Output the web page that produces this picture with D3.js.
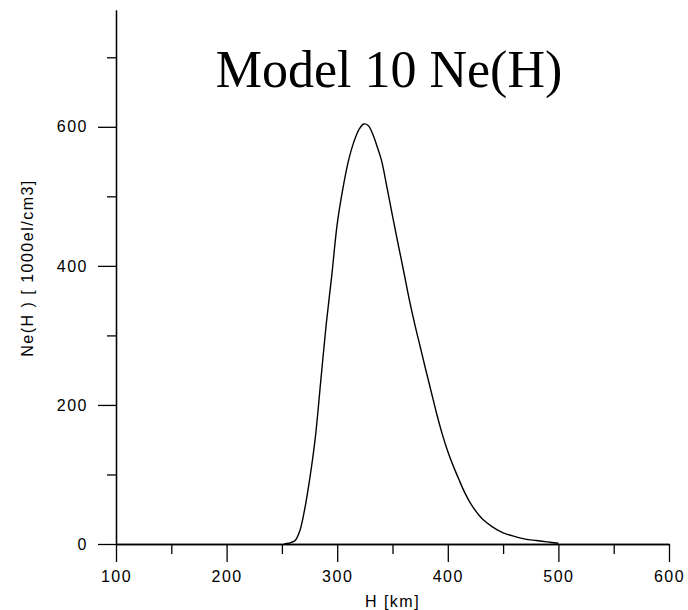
<!DOCTYPE html>
<html>
<head>
<meta charset="utf-8">
<script src="https://cdn.jsdelivr.net/npm/d3@7"></script>
<style>
  html, body { margin: 0; padding: 0; background: #fff; }
  svg { display: block; }
  .tick text, .axis-label { font-family: "Liberation Sans", Arial, sans-serif; font-size: 16px; letter-spacing: 1.5px; fill: #000; }
  .title { font-family: "Liberation Serif", "Times New Roman", serif; font-size: 52px; fill: #000; }
</style>
</head>
<body>
<svg id="chart" width="688" height="610"></svg>
<script>
// electron density profile
const heights = [252, 256, 258, 262, 266, 270, 275, 280, 285, 290, 295, 300, 305, 310, 315, 320, 324, 328, 332, 336, 340, 345, 350, 355, 360, 365, 370, 375, 380, 385, 390, 395, 400, 405, 410, 415, 420, 425, 430, 435, 440, 445, 450, 460, 470, 480, 490, 500];
const neValues = [0, 1, 2, 5, 18, 45, 92, 150, 232, 315, 385, 460, 510, 550, 578, 597, 604, 602, 590, 572, 552, 513, 472, 432, 393, 353, 317, 284, 251, 219, 187, 158, 133, 112, 93, 75, 60, 48, 38, 31, 25, 20, 16, 11, 7, 5, 3, 1];

const xMajorTicks = [100, 200, 300, 400, 500, 600];
const xMinorTicks = [150, 250, 350, 450, 550];
const yMajorTicks = [0, 200, 400, 600];
const yMinorTicks = [100, 300, 500, 700];

const titleText = "Model 10 Ne(H)";
const xTitle = "H [km]";
const yTitle = "Ne(H ) [ 1000el/cm3]";

const data = heights.map((h, i) => ({ h, v: neValues[i] }));

const svg = d3.select("#chart");

const xScale = d3.scaleLinear().domain([100, 600]).range([116, 669]);
const yScale = d3.scaleLinear().domain([0, 768]).range([544, 10]);

const styleAxis = (g) => {
  g.select(".domain").attr("stroke", "#000").attr("stroke-width", 1.3).attr("fill", "none");
  g.selectAll(".tick line").attr("stroke", "#000").attr("stroke-width", 1.3);
  g.selectAll(".tick text").attr("font-family", null).attr("font-size", null);
};

// minor ticks first, no labels
svg
  .append("g")
  .attr("transform", `translate(0,${yScale(0)})`)
  .call(d3.axisBottom(xScale).tickValues(xMinorTicks).tickSize(10).tickSizeOuter(0).tickFormat(""))
  .call(styleAxis);

svg
  .append("g")
  .attr("transform", `translate(${xScale(100)},0)`)
  .call(d3.axisLeft(yScale).tickValues(yMinorTicks).tickSize(9).tickSizeOuter(0).tickFormat(""))
  .call(styleAxis);

svg
  .append("g")
  .attr("class", "axis-x")
  .attr("transform", `translate(0,${yScale(0)})`)
  .call(d3.axisBottom(xScale).tickValues(xMajorTicks).tickSize(18).tickSizeOuter(0).tickPadding(9).tickFormat(d3.format("d")))
  .call(styleAxis);

svg
  .append("g")
  .attr("class", "axis-y")
  .attr("transform", `translate(${xScale(100)},0)`)
  .call(d3.axisLeft(yScale).tickValues(yMajorTicks).tickSize(18).tickSizeOuter(0).tickPadding(10).tickFormat(d3.format("d")))
  .call(styleAxis);

const line = d3
  .line()
  .x((d) => xScale(d.h))
  .y((d) => yScale(d.v))
  .curve(d3.curveCatmullRom.alpha(0.5));

svg
  .append("path")
  .datum(data)
  .attr("fill", "none")
  .attr("stroke", "#000")
  .attr("stroke-width", 1.4)
  .attr("d", line);

svg
  .append("text")
  .attr("class", "title")
  .attr("x", 389)
  .attr("y", 87)
  .attr("text-anchor", "middle")
  .text(titleText);

svg
  .append("text")
  .attr("class", "axis-label")
  .attr("x", (xScale.range()[0] + xScale.range()[1]) / 2)
  .attr("y", 607)
  .attr("text-anchor", "middle")
  .text(xTitle);

svg
  .append("text")
  .attr("class", "axis-label")
  .attr("transform", "translate(33,268) rotate(-90)")
  .attr("text-anchor", "middle")
  .text(yTitle);
</script>
</body>
</html>
